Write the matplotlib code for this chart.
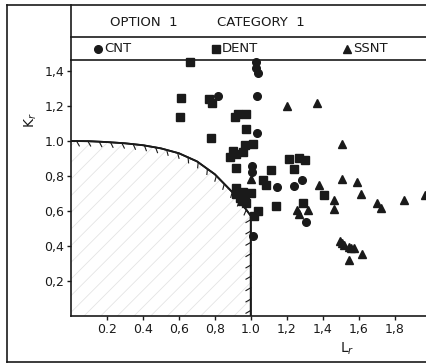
import matplotlib
matplotlib.use("Agg")
import matplotlib.pyplot as plt
from matplotlib.lines import Line2D
import matplotlib.patheffects as pe

# ---- data ----
cnt_lr = [1.03, 1.03, 1.04, 0.82, 1.035, 1.035, 1.005, 1.005, 1.145, 1.24, 1.285, 1.305, 1.015]
cnt_kr = [1.45, 1.42, 1.39, 1.26, 1.255, 1.045, 0.855, 0.825, 0.735, 0.745, 0.78, 0.535, 0.455]

dent_lr = [0.66, 0.61, 0.605, 0.77, 0.785, 0.78, 0.91, 0.93, 0.975, 0.975,
           1.01, 0.97, 0.955, 0.915, 0.885, 0.90,
           0.915, 1.11, 1.24, 1.215, 1.27, 1.30,
           1.07, 1.085, 1.405, 1.14, 1.29,
           0.92, 0.955, 1.0, 0.915, 0.94, 0.965, 0.95, 0.975,
           1.04, 1.02]
dent_kr = [1.45, 1.245, 1.135, 1.24, 1.215, 1.02, 1.14, 1.155, 1.155, 1.07,
           0.985, 0.975, 0.935, 0.925, 0.91, 0.945,
           0.845, 0.835, 0.84, 0.895, 0.905, 0.89,
           0.78, 0.75, 0.69, 0.63, 0.645,
           0.73, 0.71, 0.705, 0.70, 0.675, 0.665, 0.655, 0.645,
           0.60, 0.57]

ssnt_lr = [1.2, 1.37, 1.51, 1.0, 1.51, 1.38, 1.59, 1.615, 1.46, 1.70, 1.725, 1.85, 1.97,
           1.255, 1.27, 1.32, 1.46,
           1.495, 1.52, 1.545, 1.575, 1.62, 1.545, 1.505, 1.56]
ssnt_kr = [1.2, 1.22, 0.985, 0.785, 0.785, 0.75, 0.765, 0.695, 0.665, 0.645, 0.62, 0.665, 0.69,
           0.605, 0.585, 0.605, 0.61,
           0.43, 0.405, 0.395, 0.39, 0.355, 0.32, 0.42, 0.39]

# assessment curve points
curve_lr = [0.0, 0.1, 0.2, 0.3, 0.4, 0.5, 0.6, 0.7, 0.8, 0.9, 0.95, 1.0]
curve_kr = [1.0, 0.999, 0.994, 0.987, 0.976, 0.958, 0.93, 0.884, 0.81, 0.705, 0.642, 0.572]

x_ticks = [0.2, 0.4, 0.6, 0.8, 1.0, 1.2, 1.4, 1.6, 1.8]
x_labels = ['0.2', '0.4', '0,6', '0,8', '1.0', '1,2', '1,4', '1,6', '1,8']
y_ticks = [0.2, 0.4, 0.6, 0.8, 1.0, 1.2, 1.4]
y_labels = ['0,2', '0,4', '0,6', '0,8', '1.0', '1,2', '1,4']

header_left = "OPTION  1"
header_right = "CATEGORY  1"
legend_names = ["CNT", "DENT", "SSNT"]

FONT = ['Liberation Sans Narrow', 'DejaVu Sans']
plt.rcParams['font.family'] = FONT

W, H = 427, 363
fig = plt.figure(figsize=(W / 100, H / 100), dpi=100)
fig.patch.set_facecolor('white')

ink = '#1a1a1a'

def fx(px):
    return px / W

def fy(py):
    return 1 - py / H

ax = fig.add_axes([fx(71), fy(316), fx(427) - fx(71), fy(60) - fy(316)])
ax.set_xlim(0, 1.98)
ax.set_ylim(0, 1.463)
ax.spines['right'].set_visible(False)
for s in ['left', 'bottom', 'top']:
    ax.spines[s].set_color(ink)
    ax.spines[s].set_linewidth(1.2)

ax.set_xticks(x_ticks)
ax.set_xticklabels(x_labels)
ax.set_yticks(y_ticks)
ax.set_yticklabels(y_labels)
ax.tick_params(direction='out', length=3, width=1, color=ink, labelsize=9,
               labelcolor=ink, pad=2)

# hatched safe region (faint)
plt.rcParams['hatch.linewidth'] = 0.6
ax.fill_between(curve_lr, 0, curve_kr, facecolor='none', edgecolor='#e4e4e4',
                hatch='//', linewidth=0)

# boundary with ticks on the inner side
bx = curve_lr + [curve_lr[-1]]
by = curve_kr + [0.0]
ax.plot(bx, by, color=ink, lw=1.3,
        path_effects=[pe.withTickedStroke(angle=-60, spacing=8, length=0.5,
                                          linewidth=0.8), pe.Normal()],
        zorder=3)

ms = 5.5
ax.plot(cnt_lr, cnt_kr, 'o', color=ink, ms=ms, mec=ink, zorder=4, clip_on=False)
ax.plot(dent_lr, dent_kr, 's', color=ink, ms=ms, mec=ink, zorder=4, clip_on=False)
ax.plot(ssnt_lr, ssnt_kr, '^', color=ink, ms=ms + 0.5, mec=ink, zorder=4, clip_on=False)

fig.text(fx(347), fy(349), 'L$_r$', ha='center', va='center', fontsize=10, color=ink)
fig.text(fx(31), fy(120), 'K$_r$', ha='center', va='center', fontsize=10, color=ink,
         rotation=90)

# frame lines in figure coordinates
def fline(x0, y0, x1, y1):
    fig.add_artist(Line2D([fx(x0), fx(x1)], [fy(y0), fy(y1)], color=ink, lw=1.2,
                          transform=fig.transFigure))

fline(7, 5, 7, 362)
fline(7, 5, 427, 5)
fline(7, 361.5, 427, 361.5)
fline(71, 5, 71, 60)
fline(71, 37, 427, 37)

fig.text(fx(110), fy(23), header_left, ha='left', va='center', fontsize=9.5, color=ink)
fig.text(fx(217), fy(23), header_right, ha='left', va='center', fontsize=9.5, color=ink)

leg_x = [98, 216, 347]
leg_m = ['o', 's', '^']
for x, m, name in zip(leg_x, leg_m, legend_names):
    fig.add_artist(Line2D([fx(x)], [fy(49)], marker=m, color=ink, ms=5.5,
                          transform=fig.transFigure, ls='none'))
    fig.text(fx(x + 6), fy(49), name, ha='left', va='center', fontsize=9.5, color=ink)

fig.savefig('out.png', dpi=100, facecolor='white')
